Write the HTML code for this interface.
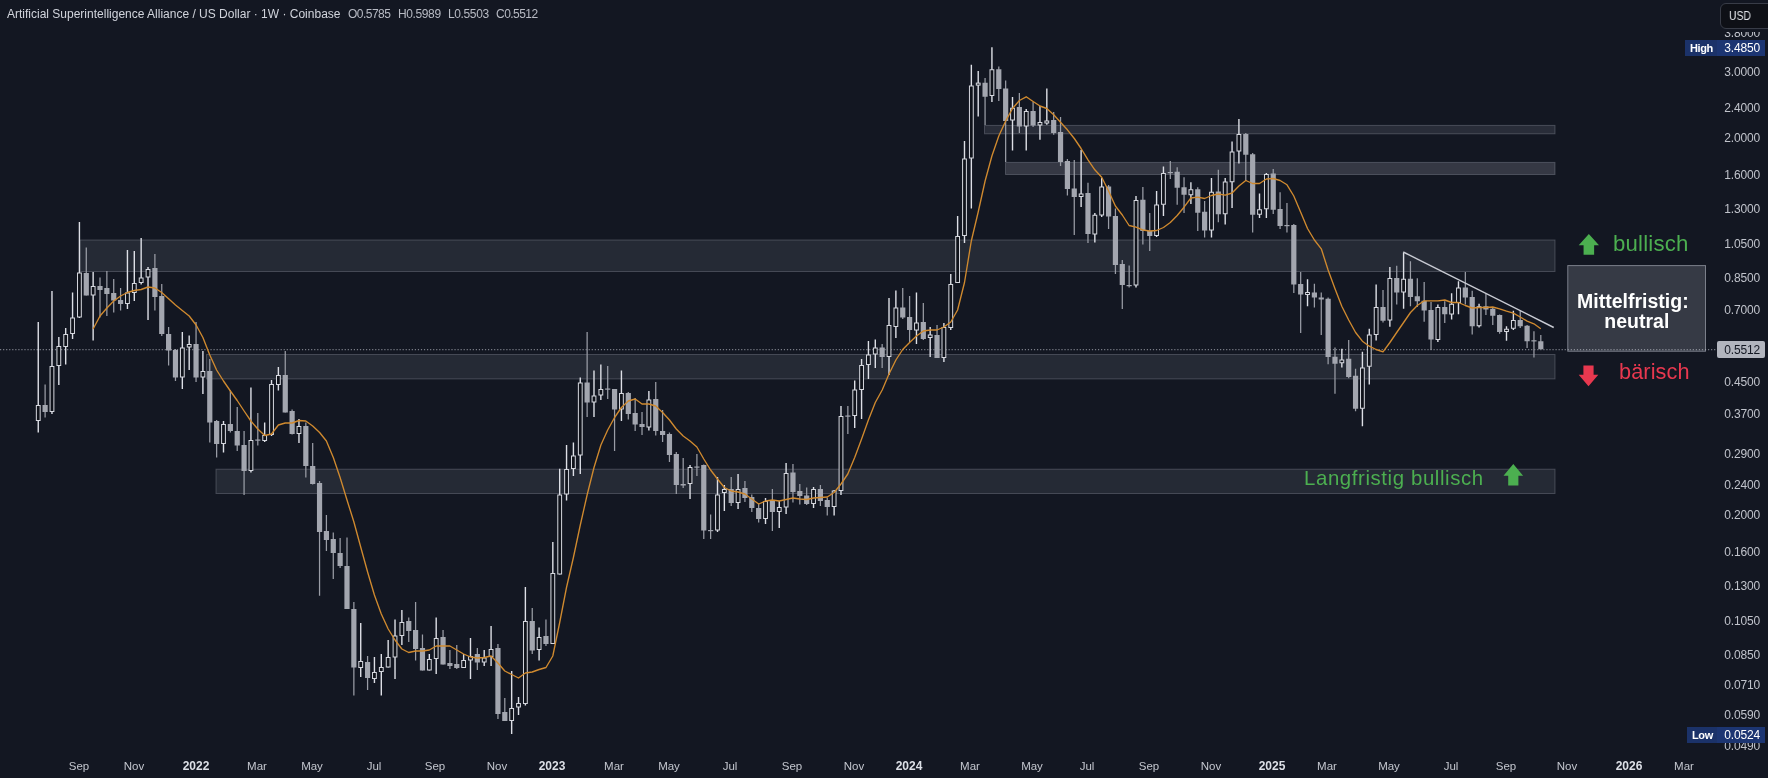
<!DOCTYPE html><html><head><meta charset="utf-8"><title>Chart</title><style>
html,body{margin:0;padding:0;background:#131722;}
body{width:1768px;height:778px;overflow:hidden;position:relative;font-family:"Liberation Sans",sans-serif;}
.t{position:absolute;white-space:nowrap;line-height:1;will-change:transform;}
.pl{will-change:transform;position:absolute;right:7.6px;width:60px;text-align:right;font-size:12px;letter-spacing:-0.15px;color:#c0c3cb;height:14px;line-height:14px;white-space:nowrap;}
.tl{will-change:transform;position:absolute;top:758.9px;width:60px;text-align:center;font-size:11.5px;color:#c3c6ce;height:14px;line-height:14px;white-space:nowrap;}
.tl.y{color:#dcdfe6;font-weight:bold;font-size:12px}

</style></head><body>
<svg width="1768" height="778" viewBox="0 0 1768 778" style="position:absolute;left:0;top:0">
<rect x="80" y="240" width="1475" height="31.5" fill="rgba(235,238,255,0.088)" stroke="rgba(235,238,255,0.2)" stroke-width="1"/>
<rect x="206.5" y="354.5" width="1348.5" height="24.399999999999977" fill="rgba(235,238,255,0.088)" stroke="rgba(235,238,255,0.2)" stroke-width="1"/>
<rect x="216" y="469.2" width="1339" height="24.30000000000001" fill="rgba(235,238,255,0.088)" stroke="rgba(235,238,255,0.2)" stroke-width="1"/>
<rect x="984.5" y="125.4" width="570.5" height="8.400000000000006" fill="rgba(235,238,255,0.105)" stroke="rgba(235,238,255,0.2)" stroke-width="1"/>
<rect x="1005.5" y="162.4" width="549.5" height="12.099999999999994" fill="rgba(235,238,255,0.155)" stroke="rgba(235,238,255,0.2)" stroke-width="1"/>
<line x1="0" y1="349.6" x2="1567.7" y2="349.6" stroke="#b9bcc5" stroke-width="1.1" stroke-dasharray="1.2 1.85" opacity="0.62"/>
<path d="M45.11 384.50V417.50M86.28 247.50V295.50M100.00 277.50V317.50M106.86 271.00V316.00M113.72 279.00V312.50M120.58 288.00V310.50M154.89 254.00V310.50M161.75 284.00V336.00M168.61 327.00V365.50M175.47 349.00V381.00M196.05 322.00V382.00M209.78 359.00V442.50M216.64 420.00V457.50M230.36 390.00V432.50M237.22 407.00V451.00M244.08 431.00V495.00M257.80 413.00V445.50M285.25 351.00V412.50M292.11 409.50V434.50M305.83 422.50V477.50M312.69 443.00V484.50M319.55 481.00V595.75M326.41 515.00V551.00M333.27 532.50V579.00M340.13 538.00V568.00M347.00 537.50V609.00M353.86 602.00V695.50M367.58 656.00V690.00M408.74 617.50V642.00M415.60 602.00V660.50M422.47 634.50V670.50M443.05 630.00V664.50M449.91 650.00V669.00M456.77 645.00V669.00M477.35 648.00V670.00M497.94 644.00V719.00M504.80 698.00V721.00M532.24 608.00V654.00M545.96 619.50V646.00M587.13 332.00V417.00M607.71 366.00V399.00M614.57 389.00V451.00M628.30 392.00V419.50M635.16 398.00V431.00M642.02 412.00V435.00M655.74 382.00V435.50M662.60 410.00V442.00M669.46 432.50V462.00M676.32 452.00V494.00M683.18 458.00V488.00M696.91 454.00V476.00M703.77 464.50V539.00M710.63 514.50V539.00M731.21 477.00V506.00M744.93 481.00V502.00M751.79 494.50V512.00M758.65 504.00V522.50M772.38 489.00V531.00M792.96 464.00V502.50M799.82 484.00V504.50M806.68 487.50V505.00M820.40 485.00V506.00M827.26 497.50V515.50M847.85 406.00V434.00M882.15 344.00V368.00M902.74 288.00V319.00M909.60 296.00V342.00M923.32 303.00V340.00M937.04 325.00V358.00M985.07 78.00V125.00M998.79 66.50V101.00M1005.65 80.50V162.00M1019.37 93.00V133.00M1033.09 102.00V127.00M1053.68 112.00V134.75M1060.54 117.00V166.00M1067.40 159.00V195.50M1074.26 160.00V235.00M1087.98 182.75V243.00M1108.57 185.00V229.00M1115.43 208.50V274.00M1122.29 260.00V309.00M1129.15 265.50V287.50M1142.87 187.00V244.50M1149.73 213.00V251.00M1170.32 161.00V179.00M1177.18 167.25V204.75M1184.04 177.25V213.00M1197.76 187.25V231.00M1204.62 201.00V237.50M1218.34 169.75V222.25M1245.79 133.00V181.00M1252.65 153.00V232.50M1273.23 169.00V214.00M1280.09 192.25V229.00M1286.95 203.00V232.50M1293.81 224.00V293.00M1300.67 272.00V333.00M1314.40 283.75V307.50M1321.26 292.50V335.00M1328.12 297.50V364.25M1334.98 347.50V393.75M1348.70 340.00V378.25M1355.56 368.75V411.25M1383.01 290.00V322.50M1396.73 265.75V304.50M1410.45 261.25V306.25M1417.31 278.25V307.00M1424.17 282.00V321.75M1431.03 302.00V350.00M1444.75 301.25V323.00M1465.34 272.00V304.50M1472.20 290.75V334.50M1485.92 293.75V315.00M1492.78 307.00V325.00M1499.64 314.50V333.75M1520.23 310.75V328.00M1527.09 325.00V348.00M1533.95 331.25V357.50M1540.81 335.00V349.25" stroke="#9a9da6" stroke-width="1.25" fill="none"/>
<path d="M38.25 322.00V432.50M51.97 291.00V414.00M58.83 337.00V385.00M65.69 328.00V364.50M72.56 292.50V339.00M79.42 222.00V318.00M93.14 272.00V340.50M127.44 250.00V309.00M134.30 251.00V301.00M141.16 238.00V284.50M148.03 267.00V320.00M182.33 332.00V389.00M189.19 335.50V370.00M202.91 351.00V394.00M223.50 421.00V452.50M250.94 387.50V472.50M264.66 422.50V442.00M271.52 380.00V436.00M278.38 367.00V390.50M298.97 419.00V443.00M360.72 623.00V677.00M374.44 657.00V683.00M381.30 654.00V695.50M388.16 640.00V667.50M395.02 619.50V679.00M401.88 610.00V645.00M429.33 654.00V670.50M436.19 617.50V674.00M463.63 654.00V668.00M470.49 638.00V679.00M484.21 650.00V666.00M491.08 626.00V666.00M511.66 671.00V734.00M518.52 697.00V715.00M525.38 587.00V705.50M539.10 627.50V660.50M552.82 542.00V644.00M559.69 468.75V574.50M566.55 445.00V500.50M573.41 442.50V476.00M580.27 377.50V474.00M593.99 370.50V417.00M600.85 364.50V400.00M621.43 370.50V421.00M648.88 391.00V430.50M690.04 465.00V499.00M717.49 477.00V532.00M724.35 485.00V511.00M738.07 474.00V509.00M765.52 498.00V524.00M779.24 501.00V528.00M786.10 463.00V514.00M813.54 487.00V508.00M834.13 490.00V515.50M840.99 406.00V495.00M854.71 380.50V428.00M861.57 359.00V419.00M868.43 341.00V379.00M875.29 339.50V368.00M889.01 298.00V375.00M895.88 290.50V338.00M916.46 292.50V344.00M930.18 327.00V357.00M943.90 323.00V362.00M950.76 274.00V330.00M957.62 216.00V283.00M964.49 141.00V243.00M971.35 64.75V208.50M978.21 71.00V116.50M991.93 47.25V102.00M1012.51 97.00V150.50M1026.23 109.00V150.50M1039.96 106.00V139.75M1046.82 88.50V124.75M1081.12 149.75V207.00M1094.84 213.00V242.50M1101.70 178.00V217.00M1136.01 196.00V287.50M1156.59 191.00V237.00M1163.45 166.50V216.00M1190.90 182.25V204.00M1211.48 178.00V237.50M1225.20 178.00V224.50M1232.06 141.50V208.00M1238.92 119.00V163.50M1259.51 193.50V218.00M1266.37 173.00V218.00M1307.53 279.25V306.25M1341.84 348.75V367.50M1362.42 351.75V426.25M1369.28 328.75V384.50M1376.14 284.50V340.50M1389.87 267.00V326.75M1403.59 252.50V308.75M1437.89 304.50V342.00M1451.62 293.25V319.50M1458.48 281.25V314.25M1479.06 303.75V327.50M1506.50 326.25V340.75M1513.37 310.75V330.00" stroke="#dddfe6" stroke-width="1.4" fill="none"/>
<g fill="#a3a6af"><rect x="42.51" y="405.00" width="5.2" height="7.00"/><rect x="83.68" y="273.00" width="5.2" height="22.50"/><rect x="97.40" y="286.00" width="5.2" height="4.00"/><rect x="104.26" y="288.00" width="5.2" height="6.00"/><rect x="111.12" y="293.00" width="5.2" height="7.50"/><rect x="117.98" y="300.00" width="5.2" height="4.00"/><rect x="152.29" y="268.00" width="5.2" height="29.00"/><rect x="159.15" y="296.00" width="5.2" height="38.00"/><rect x="166.01" y="334.00" width="5.2" height="16.50"/><rect x="172.87" y="350.00" width="5.2" height="27.50"/><rect x="193.45" y="344.00" width="5.2" height="33.50"/><rect x="207.18" y="371.00" width="5.2" height="51.50"/><rect x="214.04" y="421.00" width="5.2" height="23.00"/><rect x="227.76" y="424.00" width="5.2" height="7.00"/><rect x="234.62" y="431.00" width="5.2" height="14.50"/><rect x="241.48" y="445.00" width="5.2" height="26.00"/><rect x="255.20" y="439.50" width="5.2" height="1.20"/><rect x="282.65" y="375.00" width="5.2" height="37.50"/><rect x="289.51" y="411.00" width="5.2" height="23.00"/><rect x="303.23" y="426.00" width="5.2" height="40.00"/><rect x="310.09" y="466.00" width="5.2" height="18.00"/><rect x="316.95" y="483.00" width="5.2" height="49.00"/><rect x="323.81" y="531.00" width="5.2" height="9.00"/><rect x="330.67" y="539.00" width="5.2" height="14.00"/><rect x="337.53" y="553.00" width="5.2" height="13.00"/><rect x="344.39" y="566.00" width="5.2" height="43.00"/><rect x="351.26" y="609.00" width="5.2" height="58.50"/><rect x="364.98" y="662.00" width="5.2" height="16.00"/><rect x="406.14" y="621.00" width="5.2" height="10.00"/><rect x="413.00" y="630.00" width="5.2" height="19.00"/><rect x="419.87" y="648.00" width="5.2" height="22.50"/><rect x="440.45" y="637.00" width="5.2" height="27.50"/><rect x="447.31" y="663.00" width="5.2" height="3.00"/><rect x="454.17" y="664.00" width="5.2" height="4.00"/><rect x="474.75" y="654.00" width="5.2" height="8.50"/><rect x="495.34" y="648.00" width="5.2" height="66.00"/><rect x="502.20" y="712.00" width="5.2" height="9.00"/><rect x="529.64" y="621.00" width="5.2" height="29.50"/><rect x="543.36" y="636.00" width="5.2" height="8.00"/><rect x="584.53" y="382.50" width="5.2" height="20.00"/><rect x="605.11" y="388.50" width="5.2" height="1.20"/><rect x="611.97" y="389.00" width="5.2" height="20.50"/><rect x="625.70" y="393.00" width="5.2" height="21.00"/><rect x="632.56" y="413.00" width="5.2" height="11.50"/><rect x="639.42" y="424.00" width="5.2" height="3.00"/><rect x="653.14" y="399.00" width="5.2" height="32.00"/><rect x="660.00" y="431.00" width="5.2" height="4.00"/><rect x="666.86" y="434.00" width="5.2" height="21.00"/><rect x="673.72" y="454.00" width="5.2" height="31.00"/><rect x="680.58" y="484.00" width="5.2" height="1.50"/><rect x="694.31" y="466.50" width="5.2" height="1.20"/><rect x="701.17" y="465.00" width="5.2" height="65.50"/><rect x="708.03" y="530.00" width="5.2" height="1.20"/><rect x="728.61" y="489.00" width="5.2" height="14.00"/><rect x="742.33" y="488.00" width="5.2" height="10.00"/><rect x="749.19" y="497.00" width="5.2" height="11.00"/><rect x="756.05" y="508.00" width="5.2" height="11.00"/><rect x="769.78" y="501.00" width="5.2" height="11.00"/><rect x="790.36" y="472.50" width="5.2" height="19.50"/><rect x="797.22" y="491.00" width="5.2" height="5.00"/><rect x="804.08" y="495.50" width="5.2" height="8.50"/><rect x="817.80" y="489.00" width="5.2" height="12.00"/><rect x="824.66" y="500.00" width="5.2" height="7.00"/><rect x="845.25" y="415.50" width="5.2" height="1.20"/><rect x="879.55" y="347.50" width="5.2" height="9.50"/><rect x="900.14" y="307.50" width="5.2" height="10.00"/><rect x="907.00" y="317.00" width="5.2" height="13.00"/><rect x="920.72" y="322.00" width="5.2" height="17.00"/><rect x="934.44" y="335.00" width="5.2" height="23.00"/><rect x="982.47" y="82.75" width="5.2" height="14.00"/><rect x="996.19" y="69.25" width="5.2" height="19.75"/><rect x="1003.05" y="88.50" width="5.2" height="32.50"/><rect x="1016.77" y="107.00" width="5.2" height="19.50"/><rect x="1030.49" y="111.00" width="5.2" height="14.50"/><rect x="1051.08" y="120.00" width="5.2" height="13.00"/><rect x="1057.94" y="132.00" width="5.2" height="30.00"/><rect x="1064.80" y="161.00" width="5.2" height="28.00"/><rect x="1071.66" y="188.50" width="5.2" height="8.50"/><rect x="1085.38" y="193.00" width="5.2" height="41.00"/><rect x="1105.97" y="186.50" width="5.2" height="30.00"/><rect x="1112.83" y="216.00" width="5.2" height="49.00"/><rect x="1119.69" y="264.00" width="5.2" height="21.00"/><rect x="1126.55" y="285.00" width="5.2" height="1.20"/><rect x="1140.27" y="199.75" width="5.2" height="31.25"/><rect x="1147.13" y="231.00" width="5.2" height="5.00"/><rect x="1167.72" y="172.00" width="5.2" height="1.20"/><rect x="1174.58" y="171.75" width="5.2" height="16.00"/><rect x="1181.44" y="187.25" width="5.2" height="7.50"/><rect x="1195.16" y="189.25" width="5.2" height="23.50"/><rect x="1202.02" y="211.75" width="5.2" height="18.75"/><rect x="1215.74" y="191.50" width="5.2" height="22.75"/><rect x="1243.19" y="134.00" width="5.2" height="20.75"/><rect x="1250.05" y="154.25" width="5.2" height="60.50"/><rect x="1270.63" y="173.50" width="5.2" height="36.25"/><rect x="1277.49" y="209.00" width="5.2" height="17.00"/><rect x="1284.35" y="225.00" width="5.2" height="1.20"/><rect x="1291.21" y="225.00" width="5.2" height="59.50"/><rect x="1298.07" y="284.00" width="5.2" height="10.50"/><rect x="1311.80" y="292.50" width="5.2" height="5.00"/><rect x="1318.66" y="297.50" width="5.2" height="2.00"/><rect x="1325.52" y="298.75" width="5.2" height="58.25"/><rect x="1332.38" y="356.75" width="5.2" height="7.00"/><rect x="1346.10" y="358.75" width="5.2" height="18.25"/><rect x="1352.96" y="375.75" width="5.2" height="33.00"/><rect x="1380.41" y="307.00" width="5.2" height="13.75"/><rect x="1394.13" y="278.00" width="5.2" height="14.50"/><rect x="1407.85" y="278.75" width="5.2" height="18.25"/><rect x="1414.71" y="296.25" width="5.2" height="5.00"/><rect x="1421.57" y="300.75" width="5.2" height="9.75"/><rect x="1428.43" y="310.00" width="5.2" height="29.50"/><rect x="1442.15" y="307.00" width="5.2" height="7.25"/><rect x="1462.74" y="287.50" width="5.2" height="10.00"/><rect x="1469.60" y="297.00" width="5.2" height="29.25"/><rect x="1483.32" y="306.25" width="5.2" height="3.25"/><rect x="1490.18" y="308.75" width="5.2" height="7.00"/><rect x="1497.04" y="315.00" width="5.2" height="17.00"/><rect x="1517.63" y="320.00" width="5.2" height="6.25"/><rect x="1524.49" y="325.75" width="5.2" height="15.50"/><rect x="1531.35" y="340.25" width="5.2" height="1.20"/><rect x="1538.21" y="341.25" width="5.2" height="8.00"/></g>
<g fill="#0f121a" stroke="#d6d8df" stroke-width="1"><rect x="36.35" y="405.50" width="3.8" height="15.00"/><rect x="50.07" y="366.50" width="3.8" height="45.00"/><rect x="56.93" y="346.50" width="3.8" height="19.00"/><rect x="63.79" y="334.50" width="3.8" height="12.00"/><rect x="70.66" y="318.00" width="3.8" height="15.50"/><rect x="77.52" y="273.00" width="3.8" height="44.00"/><rect x="91.24" y="286.50" width="3.8" height="8.50"/><rect x="125.54" y="293.00" width="3.8" height="10.50"/><rect x="132.40" y="283.50" width="3.8" height="9.00"/><rect x="139.26" y="278.00" width="3.8" height="4.50"/><rect x="146.13" y="269.50" width="3.8" height="7.50"/><rect x="180.43" y="348.00" width="3.8" height="29.00"/><rect x="187.29" y="344.50" width="3.8" height="2.50"/><rect x="201.01" y="371.50" width="3.8" height="5.50"/><rect x="221.60" y="424.50" width="3.8" height="19.00"/><rect x="249.04" y="440.50" width="3.8" height="30.00"/><rect x="262.76" y="435.50" width="3.8" height="5.00"/><rect x="269.62" y="384.50" width="3.8" height="50.00"/><rect x="276.49" y="375.50" width="3.8" height="9.00"/><rect x="297.07" y="426.50" width="3.8" height="7.00"/><rect x="358.82" y="661.50" width="3.8" height="6.00"/><rect x="372.54" y="672.50" width="3.8" height="6.00"/><rect x="379.40" y="667.50" width="3.8" height="4.00"/><rect x="386.26" y="657.50" width="3.8" height="9.50"/><rect x="393.12" y="636.00" width="3.8" height="21.00"/><rect x="399.98" y="622.50" width="3.8" height="13.00"/><rect x="427.43" y="659.50" width="3.8" height="10.50"/><rect x="434.29" y="638.50" width="3.8" height="20.00"/><rect x="461.73" y="660.50" width="3.8" height="7.00"/><rect x="468.59" y="656.50" width="3.8" height="3.50"/><rect x="482.31" y="658.00" width="3.8" height="4.00"/><rect x="489.18" y="649.50" width="3.8" height="7.00"/><rect x="509.76" y="708.50" width="3.8" height="12.00"/><rect x="516.62" y="703.50" width="3.8" height="3.50"/><rect x="523.48" y="621.50" width="3.8" height="82.00"/><rect x="537.20" y="637.50" width="3.8" height="12.00"/><rect x="550.92" y="573.50" width="3.8" height="70.00"/><rect x="557.79" y="495.00" width="3.8" height="79.00"/><rect x="564.65" y="469.50" width="3.8" height="24.50"/><rect x="571.51" y="456.00" width="3.8" height="12.50"/><rect x="578.37" y="383.00" width="3.8" height="72.00"/><rect x="592.09" y="396.00" width="3.8" height="6.00"/><rect x="598.95" y="389.50" width="3.8" height="5.50"/><rect x="619.53" y="393.50" width="3.8" height="15.50"/><rect x="646.98" y="400.00" width="3.8" height="27.00"/><rect x="688.14" y="467.50" width="3.8" height="16.00"/><rect x="715.59" y="495.00" width="3.8" height="35.00"/><rect x="722.45" y="489.50" width="3.8" height="3.00"/><rect x="736.17" y="489.50" width="3.8" height="13.00"/><rect x="763.62" y="501.50" width="3.8" height="17.00"/><rect x="777.34" y="507.50" width="3.8" height="4.00"/><rect x="784.20" y="473.50" width="3.8" height="33.50"/><rect x="811.64" y="489.50" width="3.8" height="14.00"/><rect x="832.23" y="491.00" width="3.8" height="15.50"/><rect x="839.09" y="416.50" width="3.8" height="74.00"/><rect x="852.81" y="390.00" width="3.8" height="25.50"/><rect x="859.67" y="365.50" width="3.8" height="24.00"/><rect x="866.53" y="355.00" width="3.8" height="9.50"/><rect x="873.39" y="348.00" width="3.8" height="6.00"/><rect x="887.11" y="325.50" width="3.8" height="31.00"/><rect x="893.98" y="308.00" width="3.8" height="18.50"/><rect x="914.56" y="323.00" width="3.8" height="7.00"/><rect x="928.28" y="335.00" width="3.8" height="2.50"/><rect x="942.00" y="327.50" width="3.8" height="30.00"/><rect x="948.86" y="284.50" width="3.8" height="43.00"/><rect x="955.72" y="236.50" width="3.8" height="46.00"/><rect x="962.59" y="159.00" width="3.8" height="76.50"/><rect x="969.45" y="86.00" width="3.8" height="72.00"/><rect x="976.31" y="83.12" width="3.8" height="2.00"/><rect x="990.03" y="69.75" width="3.8" height="25.75"/><rect x="1010.61" y="108.25" width="3.8" height="11.75"/><rect x="1024.33" y="111.50" width="3.8" height="14.50"/><rect x="1038.06" y="122.50" width="3.8" height="2.50"/><rect x="1044.92" y="121.00" width="3.8" height="2.00"/><rect x="1079.22" y="194.00" width="3.8" height="2.50"/><rect x="1092.94" y="215.25" width="3.8" height="18.75"/><rect x="1099.80" y="187.00" width="3.8" height="28.00"/><rect x="1134.11" y="200.50" width="3.8" height="84.50"/><rect x="1154.69" y="205.00" width="3.8" height="30.50"/><rect x="1161.55" y="173.50" width="3.8" height="30.75"/><rect x="1189.00" y="189.75" width="3.8" height="5.00"/><rect x="1209.58" y="192.25" width="3.8" height="37.75"/><rect x="1223.30" y="182.00" width="3.8" height="31.75"/><rect x="1230.16" y="152.00" width="3.8" height="29.75"/><rect x="1237.02" y="134.50" width="3.8" height="16.50"/><rect x="1257.61" y="209.75" width="3.8" height="4.50"/><rect x="1264.47" y="174.50" width="3.8" height="34.25"/><rect x="1305.63" y="292.50" width="3.8" height="2.00"/><rect x="1339.94" y="360.00" width="3.8" height="2.75"/><rect x="1360.52" y="368.00" width="3.8" height="40.25"/><rect x="1367.38" y="335.00" width="3.8" height="31.25"/><rect x="1374.24" y="307.50" width="3.8" height="27.00"/><rect x="1387.97" y="278.50" width="3.8" height="41.50"/><rect x="1401.69" y="279.25" width="3.8" height="12.75"/><rect x="1435.99" y="307.50" width="3.8" height="32.00"/><rect x="1449.72" y="304.25" width="3.8" height="9.75"/><rect x="1456.58" y="288.00" width="3.8" height="14.50"/><rect x="1477.16" y="306.75" width="3.8" height="19.00"/><rect x="1504.60" y="329.25" width="3.8" height="2.25"/><rect x="1511.46" y="320.50" width="3.8" height="7.75"/></g>
<polyline points="93.1,329.0 100.0,316.0 106.9,308.0 113.7,301.0 120.6,296.0 127.4,292.5 134.3,290.5 141.2,289.5 148.0,287.0 154.9,288.0 161.7,292.5 168.6,298.8 175.5,305.0 182.3,310.5 189.2,316.0 196.1,325.0 202.9,337.5 209.8,355.0 216.6,370.0 223.5,381.0 230.4,391.0 237.2,400.5 244.1,411.0 250.9,421.0 257.8,429.0 264.7,435.5 271.5,434.0 278.4,425.0 285.2,423.0 292.1,423.0 299.0,420.5 305.8,421.0 312.7,426.0 319.6,432.5 326.4,441.0 333.3,457.5 340.1,477.5 347.0,500.0 353.9,522.0 360.7,547.0 367.6,572.0 374.4,595.0 381.3,614.0 388.2,629.0 395.0,640.0 401.9,649.0 408.7,652.5 415.6,651.0 422.5,651.0 429.3,650.0 436.2,646.0 443.0,646.0 449.9,646.0 456.8,650.0 463.6,654.0 470.5,657.0 477.4,658.0 484.2,657.5 491.1,656.0 497.9,663.0 504.8,671.0 511.7,674.5 518.5,678.0 525.4,673.0 532.2,672.0 539.1,669.5 546.0,667.5 552.8,656.0 559.7,622.5 566.5,587.5 573.4,557.5 580.3,525.0 587.1,495.0 594.0,467.5 600.9,445.0 607.7,430.0 614.6,417.5 621.4,407.5 628.3,401.0 635.2,399.0 642.0,404.0 648.9,404.0 655.7,406.0 662.6,412.5 669.5,420.0 676.3,429.0 683.2,436.0 690.0,441.0 696.9,447.0 703.8,459.0 710.6,470.0 717.5,479.0 724.4,487.5 731.2,491.0 738.1,492.0 744.9,494.0 751.8,499.0 758.7,504.0 765.5,501.0 772.4,500.0 779.2,501.0 786.1,499.5 793.0,498.0 799.8,499.0 806.7,499.5 813.5,498.0 820.4,497.5 827.3,497.0 834.1,492.5 841.0,484.0 847.8,474.0 854.7,457.5 861.6,439.0 868.4,420.0 875.3,402.5 882.2,390.0 889.0,374.0 895.9,360.0 902.7,349.5 909.6,342.5 916.5,336.0 923.3,331.0 930.2,330.0 937.0,330.0 943.9,327.0 950.8,322.0 957.6,310.0 964.5,282.5 971.3,241.0 978.2,212.0 985.1,181.0 991.9,156.0 998.8,136.0 1005.7,121.0 1012.5,108.5 1019.4,100.5 1026.2,96.8 1033.1,101.5 1040.0,106.0 1046.8,108.5 1053.7,114.8 1060.5,122.2 1067.4,129.8 1074.3,138.5 1081.1,148.5 1088.0,159.8 1094.8,169.8 1101.7,177.2 1108.6,191.0 1115.4,206.0 1122.3,215.0 1129.1,225.5 1136.0,227.2 1142.9,230.0 1149.7,231.0 1156.6,230.5 1163.5,227.5 1170.3,222.5 1177.2,215.5 1184.0,207.2 1190.9,198.0 1197.8,197.2 1204.6,198.5 1211.5,195.5 1218.3,194.0 1225.2,195.2 1232.1,193.0 1238.9,186.0 1245.8,180.5 1252.6,183.5 1259.5,183.5 1266.4,179.0 1273.2,178.5 1280.1,180.5 1287.0,184.8 1293.8,196.0 1300.7,212.2 1307.5,228.5 1314.4,240.0 1321.3,248.8 1328.1,270.0 1335.0,288.8 1341.8,306.2 1348.7,320.0 1355.6,332.5 1362.4,341.2 1369.3,346.2 1376.1,349.5 1383.0,351.8 1389.9,342.5 1396.7,332.5 1403.6,322.5 1410.5,312.5 1417.3,305.5 1424.2,300.8 1431.0,300.8 1437.9,300.8 1444.8,300.0 1451.6,302.5 1458.5,302.5 1465.3,305.5 1472.2,308.0 1479.1,307.5 1485.9,307.5 1492.8,307.0 1499.6,308.8 1506.5,311.2 1513.4,313.2 1520.2,317.0 1527.1,321.2 1533.9,323.8 1540.8,328.8" fill="none" stroke="#d08a2f" stroke-width="1.35" stroke-linejoin="round"/>
<line x1="1403.25" y1="252" x2="1553.75" y2="327.5" stroke="#c9cbd3" stroke-width="1.4"/>
<rect x="1567.8" y="265.6" width="137.7" height="85.6" fill="#363a45" stroke="#7b7f8a" stroke-width="1"/>
<line x1="1567.7" y1="349.6" x2="1717" y2="349.6" stroke="#b9bcc5" stroke-width="1.1" stroke-dasharray="1.2 1.85" opacity="0.62"/>
<path d="M1588.85 233.9L1599 245.34H1594.128V254.7H1583.572V245.34H1578.7Z" fill="#4caf50"/>
<path d="M1588.5 386.2L1598.3 374.76H1593.596V365.4H1583.404V374.76H1578.7Z" fill="#e8384f"/>
<path d="M1513.3 463.9L1523.1 475.835H1518.396V485.6H1508.204V475.835H1503.5Z" fill="#4caf50"/>
</svg>
<div class="t" style="left:6.8px;top:7px;height:14px;line-height:14px;font-size:12px;letter-spacing:0px;color:#d1d4dc">Artificial Superintelligence Alliance / US Dollar · 1W · Coinbase</div>
<div class="t" style="left:347.8px;top:7px;height:14px;line-height:14px;font-size:12px;letter-spacing:-0.52px;color:#b8bbc4">O0.5785</div>
<div class="t" style="left:398.2px;top:7px;height:14px;line-height:14px;font-size:12px;letter-spacing:-0.38px;color:#b8bbc4">H0.5989</div>
<div class="t" style="left:447.8px;top:7px;height:14px;line-height:14px;font-size:12px;letter-spacing:-0.38px;color:#b8bbc4">L0.5503</div>
<div class="t" style="left:495.6px;top:7px;height:14px;line-height:14px;font-size:12px;letter-spacing:-0.53px;color:#b8bbc4">C0.5512</div>
<div class="pl" style="top:64.6px">3.0000</div>
<div class="pl" style="top:101.1px">2.4000</div>
<div class="pl" style="top:131.0px">2.0000</div>
<div class="pl" style="top:167.6px">1.6000</div>
<div class="pl" style="top:201.6px">1.3000</div>
<div class="pl" style="top:236.6px">1.0500</div>
<div class="pl" style="top:271.2px">0.8500</div>
<div class="pl" style="top:303.0px">0.7000</div>
<div class="pl" style="top:375.4px">0.4500</div>
<div class="pl" style="top:407.4px">0.3700</div>
<div class="pl" style="top:447.3px">0.2900</div>
<div class="pl" style="top:478.3px">0.2400</div>
<div class="pl" style="top:508.2px">0.2000</div>
<div class="pl" style="top:544.7px">0.1600</div>
<div class="pl" style="top:578.8px">0.1300</div>
<div class="pl" style="top:613.7px">0.1050</div>
<div class="pl" style="top:648.4px">0.0850</div>
<div class="pl" style="top:677.8px">0.0710</div>
<div class="pl" style="top:708.2px">0.0590</div>
<div class="pl" style="top:738.6px">0.0490</div>
<div style="position:absolute;left:1700px;top:32.4px;width:68px;height:7px;overflow:hidden"><div class="pl" style="top:-6.4px">3.8000</div></div>
<div style="position:absolute;left:1720px;top:2.7px;width:60px;height:26.4px;box-sizing:border-box;background:#0e1016;border:1px solid #383c47;border-radius:6px"></div>
<div class="t" style="left:1729.3px;top:8.6px;height:14px;line-height:14px;font-size:12px;transform:scaleX(0.86);transform-origin:0 0;color:#e3e5ea">USD</div>
<div style="position:absolute;left:1685.4px;top:39.9px;width:31.59999999999991px;height:16px;background:#1b3269"></div>
<div style="position:absolute;left:1717px;top:39.9px;width:47.5px;height:16px;background:#1c3572"></div>
<div class="t" style="left:1689.7px;top:40.9px;height:14px;line-height:14px;font-size:11px;color:#fff;font-weight:bold;letter-spacing:-0.4px">High</div>
<div class="pl" style="top:40.9px;color:#fff">3.4850</div>
<div style="position:absolute;left:1687.2px;top:726.7px;width:29.799999999999955px;height:16px;background:#1b3269"></div>
<div style="position:absolute;left:1717px;top:726.7px;width:47.5px;height:16px;background:#1c3572"></div>
<div class="t" style="left:1691.5px;top:727.7px;height:14px;line-height:14px;font-size:11px;color:#fff;font-weight:bold;letter-spacing:-0.4px">Low</div>
<div class="pl" style="top:727.7px;color:#fff">0.0524</div>
<div style="position:absolute;left:1717px;top:341px;width:48px;height:17.2px;background:#b2b5be;border-radius:2px"></div>
<div class="pl" style="top:342.6px;color:#131722">0.5512</div>
<div class="tl" style="left:49px">Sep</div>
<div class="tl" style="left:104px">Nov</div>
<div class="tl y" style="left:166px">2022</div>
<div class="tl" style="left:227px">Mar</div>
<div class="tl" style="left:282px">May</div>
<div class="tl" style="left:344px">Jul</div>
<div class="tl" style="left:405px">Sep</div>
<div class="tl" style="left:467px">Nov</div>
<div class="tl y" style="left:522px">2023</div>
<div class="tl" style="left:584px">Mar</div>
<div class="tl" style="left:639px">May</div>
<div class="tl" style="left:700px">Jul</div>
<div class="tl" style="left:762px">Sep</div>
<div class="tl" style="left:824px">Nov</div>
<div class="tl y" style="left:879px">2024</div>
<div class="tl" style="left:940px">Mar</div>
<div class="tl" style="left:1002px">May</div>
<div class="tl" style="left:1057px">Jul</div>
<div class="tl" style="left:1118.5px">Sep</div>
<div class="tl" style="left:1180.5px">Nov</div>
<div class="tl y" style="left:1242px">2025</div>
<div class="tl" style="left:1297px">Mar</div>
<div class="tl" style="left:1358.5px">May</div>
<div class="tl" style="left:1420.5px">Jul</div>
<div class="tl" style="left:1475.5px">Sep</div>
<div class="tl" style="left:1537px">Nov</div>
<div class="tl y" style="left:1599px">2026</div>
<div class="tl" style="left:1653.8px">Mar</div>
<div class="t" id="bull" style="left:1612.6px;top:231px;letter-spacing:0.2px;font-size:22.2px;height:26px;line-height:26px;color:#4caf50">bullisch</div>
<div class="t" id="baer" style="left:1618.6px;top:358.5px;letter-spacing:0.1px;font-size:21.7px;height:26px;line-height:26px;color:#e8384f">bärisch</div>
<div class="t" id="lang" style="left:1303.6px;top:465.1px;letter-spacing:0.6px;font-size:20.4px;height:26px;line-height:26px;color:#4caf50">Langfristig bullisch</div>
<div class="t" id="mf1" style="left:1563.5px;width:137.7px;text-align:center;top:291px;font-size:19.5px;height:20px;line-height:20px;color:#fff;font-weight:bold">Mittelfristig:</div>
<div class="t" id="mf2" style="left:1567.5px;width:137.7px;text-align:center;top:310.8px;font-size:19.5px;height:20px;line-height:20px;color:#fff;font-weight:bold">neutral</div>
</body></html>
